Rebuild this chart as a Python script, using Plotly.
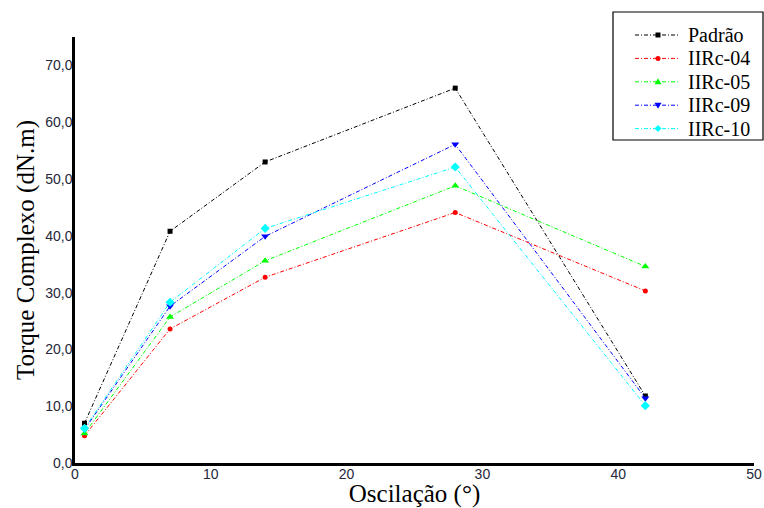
import plotly.graph_objects as go

oscilacao = [0.7, 7, 14, 28, 42]
padrao = [7.0, 40.8, 53.0, 66.0, 11.8]
iirc_04 = [4.8, 23.6, 32.7, 44.1, 30.3]
iirc_05 = [5.2, 25.7, 35.6, 48.8, 34.6]
iirc_09 = [5.9, 27.6, 39.9, 56.1, 11.4]
iirc_10 = [6.1, 28.3, 41.3, 52.1, 10.1]

names = ["Padrão", "IIRc-04", "IIRc-05", "IIRc-09", "IIRc-10"]
values = [padrao, iirc_04, iirc_05, iirc_09, iirc_10]
colors = ["#000000", "#ff0000", "#00ff00", "#0000ff", "#00ffff"]
symbols = ["square", "circle", "triangle-up", "triangle-down", "diamond"]
sizes = [5, 5, 7, 7, 7]
DASH = "4px,2px,1px,2px"

# plot area in pixels
L, R, T, B = 75, 754, 37, 463
W, H = R - L, B - T


def px(x):
    return (x - L) / W


def py(y):
    return (B - y) / H


fig = go.Figure()
for name, vals, color, sym, size in zip(names, values, colors, symbols, sizes):
    fig.add_trace(go.Scatter(
        x=oscilacao, y=vals, name=name, mode="lines+markers",
        line=dict(color=color, width=1, dash=DASH),
        marker=dict(color=color, symbol=sym, size=size),
        showlegend=False, cliponaxis=False,
    ))

serif = "Liberation Serif"

# custom legend (box, samples, labels)
shapes = [dict(type="rect", xref="paper", yref="paper",
               x0=px(613), x1=px(763), y0=py(140), y1=py(12),
               line=dict(color="black", width=1.2), fillcolor="white", layer="above")]
annotations = []
# pixel-sized paths: y axis points up
marker_paths = {
    "square": "M-2.5,-2.5 L2.5,-2.5 L2.5,2.5 L-2.5,2.5 Z",
    "triangle-up": "M-3.5,-2.5 L3.5,-2.5 L0,3.5 Z",
    "triangle-down": "M-3.5,2.5 L3.5,2.5 L0,-3.5 Z",
    "diamond": "M0,-3.5 L3.5,0 L0,3.5 L-3.5,0 Z",
}
for i, (name, color, sym) in enumerate(zip(names, colors, symbols)):
    yc = 35 + i * 23.4
    shapes.append(dict(type="line", xref="paper", yref="paper",
                       x0=px(635), x1=px(678), y0=py(yc), y1=py(yc),
                       line=dict(color=color, width=1, dash=DASH), layer="above"))
    if sym == "circle":
        shapes.append(dict(type="circle", xref="paper", yref="paper",
                           xsizemode="pixel", ysizemode="pixel",
                           xanchor=px(658), yanchor=py(yc),
                           x0=-2.5, x1=2.5, y0=-2.5, y1=2.5,
                           fillcolor=color, line=dict(color=color, width=0), layer="above"))
    else:
        shapes.append(dict(type="path", xref="paper", yref="paper",
                           xsizemode="pixel", ysizemode="pixel",
                           xanchor=px(658), yanchor=py(yc),
                           path=marker_paths[sym],
                           fillcolor=color, line=dict(color=color, width=0), layer="above"))
    annotations.append(dict(xref="paper", yref="paper", x=px(686), y=py(yc),
                            xanchor="left", yanchor="middle", showarrow=False,
                            text=name, font=dict(family=serif, size=20, color="#000000")))

fig.update_layout(
    width=764, height=508,
    margin=dict(l=L, r=764 - R, t=T, b=508 - B),
    paper_bgcolor="white", plot_bgcolor="white",
    separators=",.",
    showlegend=False,
    shapes=shapes,
    annotations=annotations,
    xaxis=dict(
        range=[0, 50], tickvals=[0, 10, 20, 30, 40, 50], tickformat="d",
        showline=True, linecolor="black", linewidth=2.5, showgrid=False,
        zeroline=False, ticks="", ticklabelstandoff=-4, automargin=False,
        tickfont=dict(family="Liberation Sans", size=14, color="#24283a"),
        title=dict(text="Oscilação (°)", font=dict(family=serif, size=25, color="#000000"), standoff=4),
    ),
    yaxis=dict(
        range=[0, 75], tickvals=[0, 10, 20, 30, 40, 50, 60, 70], tickformat=".1f",
        showline=True, linecolor="black", linewidth=2.5, showgrid=False,
        zeroline=False, ticks="", ticklabelstandoff=-3, automargin=False,
        tickfont=dict(family="Liberation Sans", size=14, color="#24283a"),
        title=dict(text="Torque Complexo (dN.m)", font=dict(family=serif, size=25, color="#000000"), standoff=4),
    ),
)

fig.write_html("out.html", config={"displayModeBar": False},
               post_script="document.body.style.margin='0';document.body.style.overflow='hidden';")
